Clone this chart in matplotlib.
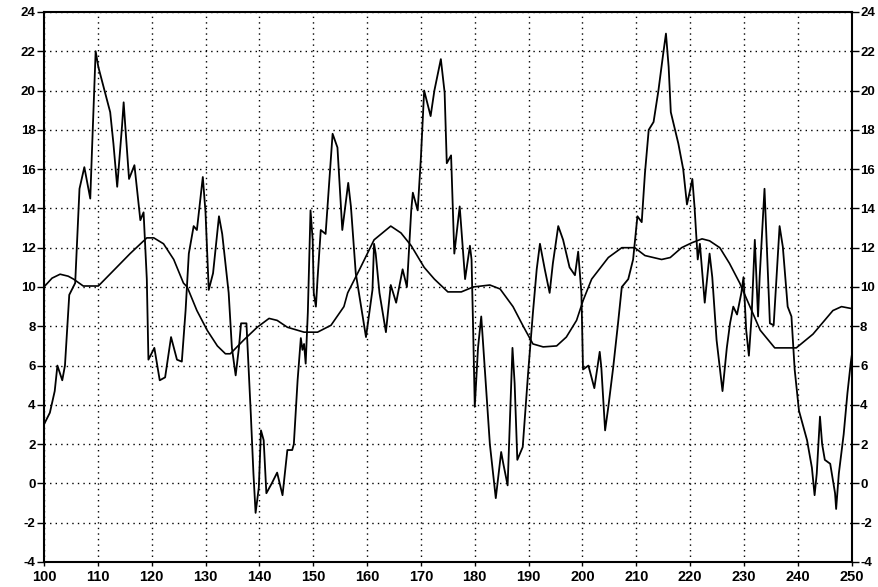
import matplotlib
matplotlib.use("Agg")
import matplotlib.pyplot as plt

# jagged series
raw_x = [100.0, 101.1, 102.0, 102.5, 103.4, 103.9, 104.7, 105.8, 106.1, 106.6,
         107.5, 108.6, 108.9, 109.6, 110.1, 112.3, 112.9, 113.6, 114.5, 114.8,
         115.1, 115.8, 116.8, 117.9, 118.5, 119.1, 119.4, 120.5, 121.5, 122.5,
         123.6, 124.7, 125.6, 126.3, 126.9, 127.8, 128.4, 129.5, 130.0, 130.6,
         131.4, 132.5, 133.1, 134.3, 134.9, 135.6, 136.2, 136.6, 137.6, 138.4,
         138.9, 139.3, 139.9, 140.3, 140.8, 141.3, 142.3, 143.3, 144.3, 145.2,
         146.1, 146.4, 147.1, 147.7, 148.0, 148.3, 148.6, 149.0, 149.5, 149.9,
         150.1, 150.5, 150.8, 151.4, 152.3, 153.6, 154.5, 155.4, 156.5, 157.0,
         157.9, 159.8, 161.0, 161.3, 161.6, 162.3, 163.5, 164.4, 165.4, 166.6,
         167.4, 168.2, 168.5, 169.4, 170.0, 170.6, 171.8, 172.5, 173.7, 174.4,
         174.8, 175.6, 176.2, 177.2, 178.2, 179.1, 179.4, 179.7, 180.0, 180.6,
         181.2, 181.5, 182.8, 183.9, 184.9, 185.3, 186.1, 187.0, 187.4, 187.9,
         188.9, 189.9, 190.8, 191.5, 192.1, 193.0, 193.9, 194.5, 195.5, 196.4,
         197.6, 198.6, 199.2, 199.8, 200.1, 201.1, 202.2, 203.2, 203.5, 204.2,
         204.8, 205.7, 206.6, 207.3, 208.5, 209.4, 210.2, 211.0, 211.6, 212.3,
         213.2, 214.1, 215.0, 215.5, 216.0, 216.4, 217.8, 218.7, 219.4, 220.0,
         220.4, 220.8, 221.4, 221.8, 222.7, 223.6, 224.1, 224.9, 226.0, 226.8,
         227.4, 228.0, 228.7, 229.5, 229.9, 230.4, 230.9, 231.4, 232.0, 232.6,
         232.9, 233.8, 234.8, 235.5, 236.6, 237.2, 238.1, 238.8, 239.4, 240.2,
         241.7, 242.6, 243.1, 243.5, 244.1, 244.5, 245.0, 246.0, 246.9, 247.1,
         247.6, 248.5, 249.2, 249.8, 250.0]
raw_y = [3.0, 3.6, 4.7, 6.0, 5.25, 6.0, 9.6, 10.2, 12.0, 15.0,
         16.1, 14.5, 16.8, 22.0, 21.2, 18.9, 17.3, 15.1, 18.2, 19.4,
         18.2, 15.5, 16.2, 13.4, 13.8, 10.4, 6.3, 6.9, 5.25, 5.4,
         7.45, 6.3, 6.2, 8.8, 11.7, 13.1, 12.9, 15.6, 13.8, 9.85,
         10.7, 13.6, 12.7, 9.7, 6.9, 5.5, 6.9, 8.15, 8.15, 3.6,
         0.5, -1.5, -0.2, 2.7, 2.2, -0.5, 0.0, 0.55, -0.6, 1.7,
         1.7, 2.0, 5.25, 7.4, 6.8, 7.1, 6.1, 8.7, 13.9, 12.4,
         9.7, 9.0, 10.4, 12.9, 12.7, 17.8, 17.1, 12.9, 15.3, 14.1,
         10.7, 7.45, 9.85, 12.2, 11.7, 9.7, 7.7, 10.1, 9.2, 10.9,
         10.0, 13.9, 14.8, 13.9, 16.6, 20.0, 18.7, 20.0, 21.6, 19.9,
         16.3, 16.7, 11.7, 14.1, 10.4, 12.1, 11.4, 7.8, 3.9, 6.9,
         8.5, 7.3, 2.0, -0.75, 1.6, 1.0, -0.1, 6.9, 5.1, 1.2,
         1.85, 5.6, 8.7, 10.9, 12.2, 10.9, 9.7, 11.2, 13.1, 12.4,
         11.0, 10.6, 11.8, 9.7, 5.8, 6.0, 4.85, 6.7, 5.9, 2.7,
         3.9, 5.9, 8.15, 10.0, 10.4, 11.4, 13.6, 13.3, 15.8, 18.0,
         18.4, 20.0, 21.9, 22.9, 21.2, 18.9, 17.3, 16.0, 14.2, 14.95,
         15.5, 14.1, 11.4, 12.2, 9.2, 11.7, 10.5, 7.3, 4.7, 6.9,
         8.15, 9.0, 8.6, 9.7, 10.5, 7.8, 6.5, 8.5, 12.4, 8.5,
         10.5, 15.0, 8.15, 8.05, 13.1, 12.05, 9.0, 8.5, 5.8, 3.7,
         2.2, 0.8, -0.6, 0.5, 3.4, 2.0, 1.2, 1.0, -0.5, -1.3,
         0.5, 2.5, 4.6, 6.1, 6.5]

# smooth series
smooth_x = [100.0, 101.5, 103.0, 104.5, 105.5, 107.3, 110.1, 113.5, 116.0, 119.1,
            120.4, 122.2, 124.1, 125.9, 126.6, 128.4, 130.3, 132.2, 133.7, 134.6,
            137.1, 139.6, 141.8, 143.3, 145.2, 148.3, 150.8, 153.3, 155.7, 156.4,
            158.8, 161.3, 164.4, 166.3, 168.2, 170.6, 172.5, 175.0, 177.5, 179.7,
            182.8, 184.7, 187.1, 189.0, 190.8, 192.7, 195.2, 197.0, 198.9, 200.1,
            201.7, 204.8, 207.3, 209.7, 211.6, 214.7, 216.3, 218.4, 220.3, 222.2,
            223.6, 225.5, 227.3, 229.2, 231.1, 233.0, 235.7, 239.7, 242.8, 246.5,
            248.1, 250.0]
smooth_y = [10.0, 10.45, 10.65, 10.55, 10.4, 10.05, 10.05, 11.0, 11.7, 12.5,
            12.5, 12.2, 11.4, 10.2, 10.0, 8.8, 7.8, 7.0, 6.6, 6.6,
            7.3, 7.95, 8.4, 8.3, 7.95, 7.7, 7.7, 8.05, 9.0, 9.7,
            11.0, 12.4, 13.1, 12.75, 12.1, 11.0, 10.4, 9.75, 9.75, 10.0,
            10.1, 9.9, 9.0, 8.0, 7.1, 6.95, 7.0, 7.45, 8.3, 9.3,
            10.4, 11.5, 12.0, 12.0, 11.6, 11.4, 11.5, 12.0, 12.25, 12.45,
            12.35, 12.0, 11.2, 10.2, 9.0, 7.8, 6.9, 6.9, 7.6, 8.8,
            9.0, 8.9]

x_ticks = list(range(100, 251, 10))
y_ticks = list(range(-4, 25, 2))

plt.rcParams['font.family'] = ['Liberation Sans', 'DejaVu Sans']
plt.rcParams['axes.unicode_minus'] = False

fig = plt.figure(figsize=(8.79, 5.87), dpi=100)
ax = fig.add_axes([0.050, 0.0426, 0.919, 0.937])

ax.plot(raw_x, raw_y, color='black', lw=1.3)
ax.plot(smooth_x, smooth_y, color='black', lw=1.2)

ax.set_xlim(100, 250)
ax.set_ylim(-4, 24)
ax.set_xticks(x_ticks)
ax.set_yticks(y_ticks)
ax.grid(True, color='black', linestyle=(0, (1, 3)), lw=1.0)

ax.tick_params(axis='y', which='both', direction='out', length=5, width=1,
               left=True, right=True, labelleft=True, labelright=True,
               labelsize=9.5, pad=1)
ax.tick_params(axis='x', direction='out', length=3, width=1, labelsize=10.5, pad=3)
for lab in ax.get_xticklabels() + ax.get_yticklabels():
    lab.set_fontweight('bold')

for s in ax.spines.values():
    s.set_linewidth(1.5)

fig.savefig('out.png', dpi=100)
